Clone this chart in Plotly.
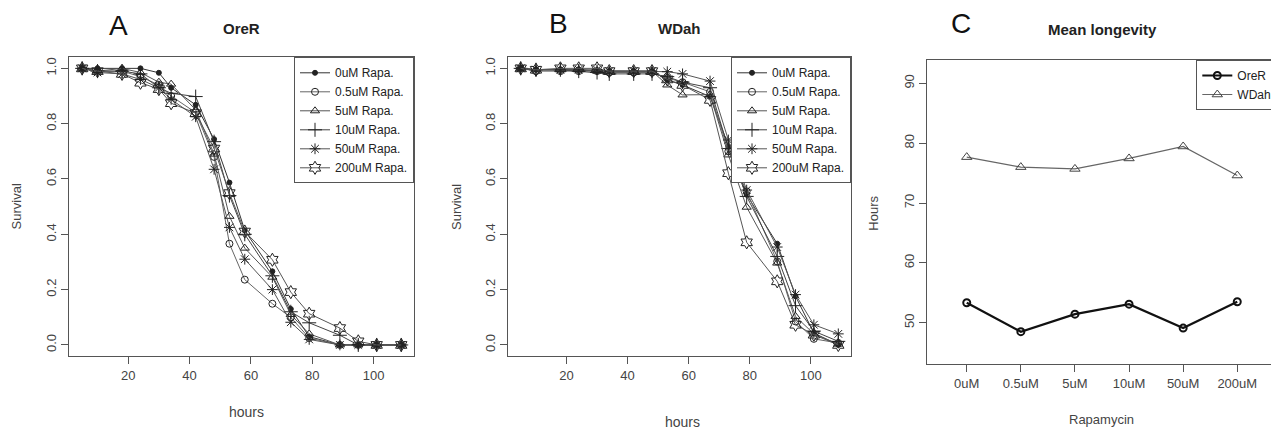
import plotly.graph_objects as go

# The page body has an 8px margin, so the figure is drawn 8px lower/right.
OFF = 8
W, H = 1279 - OFF, 433 - OFF

# ---------------- data ----------------
hours = [5, 10, 18, 24, 30, 34, 42, 48, 53, 58, 67, 73, 79, 89, 95, 101, 109]
doses = ["0uM Rapa.", "0.5uM Rapa.", "5uM Rapa.", "10uM Rapa.", "50uM Rapa.", "200uM Rapa."]

orer_0uM = [1.0, 1.0, 1.0, 1.0, 0.984, 0.93, 0.868, 0.744, 0.587, 0.414, 0.266, 0.13, 0.03, 0.0, 0.0, 0.0, 0.0]
orer_05uM = [1.0, 0.99, 0.99, 0.97, 0.94, 0.90, 0.84, 0.68, 0.366, 0.236, 0.149, 0.10, 0.025, 0.0, 0.0, 0.0, 0.0]
orer_5uM = [1.0, 0.99, 1.0, 0.985, 0.95, 0.943, 0.85, 0.69, 0.465, 0.35, 0.245, 0.11, 0.04, 0.0, 0.0, 0.0, 0.0]
orer_10uM = [1.0, 0.99, 0.99, 0.98, 0.93, 0.91, 0.898, 0.735, 0.54, 0.40, 0.25, 0.12, 0.08, 0.035, 0.0, 0.0, 0.0]
orer_50uM = [1.0, 0.985, 0.98, 0.96, 0.93, 0.888, 0.825, 0.635, 0.425, 0.31, 0.20, 0.082, 0.02, 0.0, 0.0, 0.0, 0.0]
orer_200uM = [1.0, 0.99, 0.98, 0.948, 0.925, 0.874, 0.838, 0.71, 0.549, 0.41, 0.308, 0.191, 0.113, 0.061, 0.013, 0.0, 0.0]

wdah_0uM = [1.0, 0.995, 0.995, 0.995, 0.99, 0.99, 0.99, 0.99, 0.958, 0.94, 0.898, 0.717, 0.543, 0.366, 0.176, 0.043, 0.0]
wdah_05uM = [1.0, 0.99, 0.99, 0.99, 0.99, 0.985, 0.985, 0.985, 0.965, 0.95, 0.915, 0.70, 0.555, 0.302, 0.085, 0.022, 0.007]
wdah_5uM = [1.0, 0.995, 0.995, 0.995, 0.99, 0.99, 0.99, 0.99, 0.94, 0.904, 0.905, 0.687, 0.498, 0.296, 0.103, 0.04, 0.003]
wdah_10uM = [1.0, 0.995, 0.995, 0.99, 0.985, 0.98, 0.98, 0.98, 0.97, 0.95, 0.93, 0.71, 0.537, 0.32, 0.142, 0.05, 0.013]
wdah_50uM = [1.0, 0.995, 0.995, 0.995, 0.995, 0.99, 0.99, 0.99, 0.988, 0.98, 0.954, 0.741, 0.56, 0.354, 0.182, 0.073, 0.04]
wdah_200uM = [1.0, 0.995, 1.0, 1.0, 1.0, 0.99, 0.99, 0.99, 0.96, 0.94, 0.886, 0.621, 0.371, 0.23, 0.073, 0.037, 0.0]

rapa_labels = ["0uM", "0.5uM", "5uM", "10uM", "50uM", "200uM"]
mean_orer = [53.33, 48.5, 51.43, 53.1, 49.1, 53.5]
mean_wdah = [77.67, 76.0, 75.7, 77.45, 79.45, 74.6]

# ---------------- styles ----------------
FONT = "Liberation Sans, Arial, sans-serif"
AX = "#555555"
TXT = "#444444"
symbols = ["circle", "circle-open", "triangle-up-open", "cross-thin-open", "asterisk-open", "hexagram-open"]
sizes = [5, 7, 8, 10, 9, 10]
line_cols = ["#333333", "#666666", "#555555", "#444444", "#555555", "#555555"]


def px_x(p):
    return (p - OFF) / W


def px_y(p):
    return 1 - (p - OFF) / H


fig = go.Figure()

orer_series = [orer_0uM, orer_05uM, orer_5uM, orer_10uM, orer_50uM, orer_200uM]
wdah_series = [wdah_0uM, wdah_05uM, wdah_5uM, wdah_10uM, wdah_50uM, wdah_200uM]

for i, (name, ys) in enumerate(zip(doses, orer_series)):
    fig.add_trace(go.Scatter(
        x=hours, y=ys, name=name, mode="lines+markers", xaxis="x", yaxis="y",
        legend="legend",
        line=dict(color=line_cols[i], width=1),
        marker=dict(symbol=symbols[i], size=sizes[i], color="#222222",
                    line=dict(color="#222222", width=1)),
    ))
for i, (name, ys) in enumerate(zip(doses, wdah_series)):
    fig.add_trace(go.Scatter(
        x=hours, y=ys, name=name, mode="lines+markers", xaxis="x2", yaxis="y2",
        legend="legend2",
        line=dict(color=line_cols[i], width=1),
        marker=dict(symbol=symbols[i], size=sizes[i], color="#222222",
                    line=dict(color="#222222", width=1)),
    ))

fig.add_trace(go.Scatter(
    x=rapa_labels, y=mean_orer, name="OreR", mode="lines+markers", xaxis="x3", yaxis="y3",
    legend="legend3",
    line=dict(color="#111111", width=2.2),
    marker=dict(symbol="circle-open", size=7, color="#111111", line=dict(color="#111111", width=2)),
))
fig.add_trace(go.Scatter(
    x=rapa_labels, y=mean_wdah, name="WDah", mode="lines+markers", xaxis="x3", yaxis="y3",
    legend="legend3",
    line=dict(color="#666666", width=1.2),
    marker=dict(symbol="triangle-up-open", size=9, color="#444444", line=dict(color="#444444", width=1)),
))


def axis_common():
    return dict(showgrid=False, zeroline=False, showline=True, mirror=True,
                linecolor=AX, linewidth=1, ticks="outside", ticklen=7,
                tickcolor=AX, tickwidth=1,
                tickfont=dict(family=FONT, size=13, color=TXT))


domA = [px_x(69.4), px_x(414)]
domB = [px_x(508), px_x(851)]
domC = [px_x(926.7), px_x(1277.3)]
domY = [px_y(356), px_y(57.3)]
domYC = [px_y(364), px_y(60)]

fig.update_layout(
    width=W, height=H,
    margin=dict(l=0, r=0, t=0, b=0),
    paper_bgcolor="white", plot_bgcolor="white",
    font=dict(family=FONT, color=TXT),
    xaxis=dict(domain=domA, range=[0.84, 113.16], tickvals=[20, 40, 60, 80, 100],
               anchor="y", **axis_common()),
    yaxis=dict(domain=domY, range=[-0.04, 1.04], tickvals=[0, 0.2, 0.4, 0.6, 0.8, 1.0],
               tickformat=".1f", tickangle=-90, anchor="x", **axis_common()),
    xaxis2=dict(domain=domB, range=[0.84, 113.16], tickvals=[20, 40, 60, 80, 100],
                anchor="y2", **axis_common()),
    yaxis2=dict(domain=domY, range=[-0.04, 1.04], tickvals=[0, 0.2, 0.4, 0.6, 0.8, 1.0],
                tickformat=".1f", tickangle=-90, anchor="x2", **axis_common()),
    xaxis3=dict(domain=domC, type="category", range=[-0.74, 5.74],
                anchor="y3", **axis_common()),
    yaxis3=dict(domain=domYC, range=[43.1, 93.9], tickvals=[50, 60, 70, 80, 90],
                tickangle=-90, anchor="x3", **axis_common()),
    showlegend=True,
)


def leg(xr, ytop):
    return dict(x=xr, y=ytop, xanchor="right", yanchor="top", xref="paper", yref="paper",
                bgcolor="white", bordercolor=AX, borderwidth=1,
                font=dict(family=FONT, size=12, color="#222222"),
                tracegroupgap=0, itemwidth=30)


fig.update_layout(
    legend=leg(domA[1], domY[1]),
    legend2=leg(domB[1], domY[1]),
    legend3=leg(domC[1], domYC[1]),
)

annots = [
    # panel letters
    dict(text="A", x=119, y=25, size=28, color="#111111", angle=0),
    dict(text="B", x=558, y=24, size=28, color="#111111", angle=0),
    dict(text="C", x=961, y=24, size=28, color="#111111", angle=0),
    # titles
    dict(text="<b>OreR</b>", x=241.7, y=28, size=15, color="#222222", angle=0),
    dict(text="<b>WDah</b>", x=679.5, y=28, size=15, color="#222222", angle=0),
    dict(text="<b>Mean longevity</b>", x=1102, y=30, size=15, color="#222222", angle=0),
    # axis titles
    dict(text="hours", x=246.7, y=412, size=14, color=TXT, angle=0),
    dict(text="hours", x=682.3, y=422, size=14, color=TXT, angle=0),
    dict(text="Rapamycin", x=1101.7, y=419, size=13, color=TXT, angle=0),
    dict(text="Survival", x=16.7, y=206.7, size=13, color=TXT, angle=-90),
    dict(text="Survival", x=456, y=207, size=13, color=TXT, angle=-90),
    dict(text="Hours", x=872.7, y=213, size=13, color=TXT, angle=-90),
]
for a in annots:
    fig.add_annotation(
        text=a["text"], x=px_x(a["x"]), y=px_y(a["y"]), xref="paper", yref="paper",
        xanchor="center", yanchor="middle", showarrow=False, textangle=a["angle"],
        font=dict(family=FONT, size=a["size"], color=a["color"]),
    )

fig.write_html("out.html")
